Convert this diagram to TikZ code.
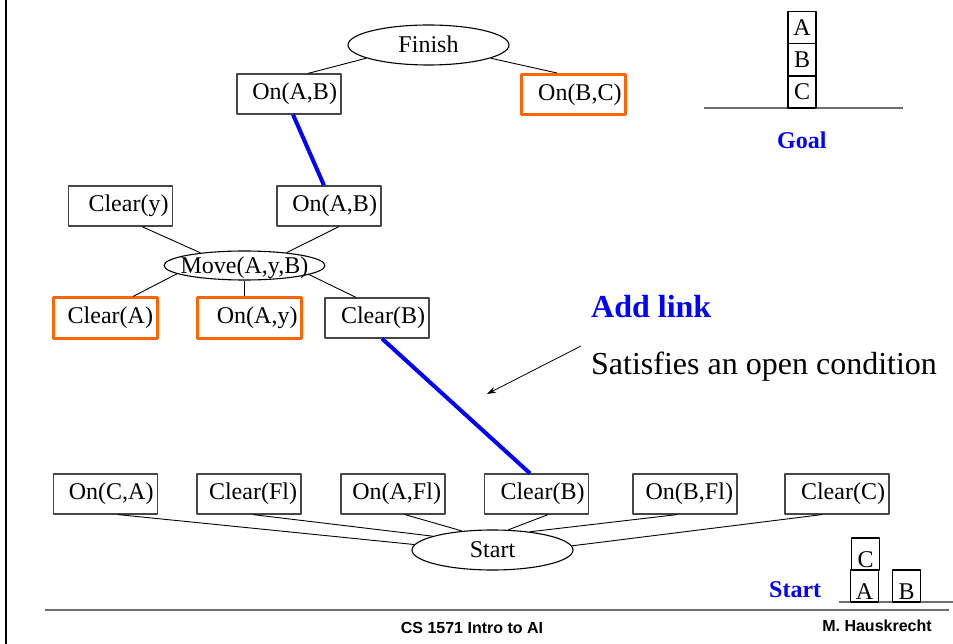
\documentclass[tikz,border=0pt]{standalone}
\usepackage{fontspec}
\setmainfont{Liberation Serif}
\newfontfamily\footfont{Liberation Sans}
\usetikzlibrary{arrows.meta,shapes.geometric}
\definecolor{linkorange}{RGB}{255,102,0}
\definecolor{linkblue}{RGB}{0,0,255}
\definecolor{boxgray}{RGB}{70,70,70}
\definecolor{rulegray}{RGB}{110,110,110}
% ellipse text that does not widen the ellipse
\newcommand{\actname}[1]{\raisebox{-0.33em}[0pt][0pt]{\makebox[0pt]{#1}}}
\tikzset{
	cond/.style={draw=boxgray, line width=1.2pt, minimum width=104pt, minimum height=40pt,
		inner sep=0pt, text width=96pt, align=right, font=\fontsize{24}{28}\selectfont},
	opencond/.style={cond, draw=linkorange, line width=3pt},
	act/.style={draw, ellipse, line width=1.1pt, minimum width=161pt, minimum height=40pt,
		inner sep=0pt, font=\fontsize{24}{28}\selectfont},
	wire/.style={line width=0.9pt},
	link/.style={linkblue, line width=4pt},
	block/.style={draw, line width=1.1pt, minimum width=28pt, minimum height=32pt, inner sep=0pt,
		font=\fontsize{24}{28}\selectfont},
	bluelabel/.style={text=linkblue, font=\fontsize{24}{28}\selectfont\bfseries, inner sep=0pt, anchor=base west}
}
\begin{document}
\begin{tikzpicture}[x=1pt, y=-1pt, line join=round, >=stealth]
	\useasboundingbox (0,0) rectangle (953,644);
	% slide frame
	\draw[line width=2.5pt] (6,0) -- (6,644);
	\draw[rulegray, line width=1.5pt] (45,610) -- (949,610);
	\node[font=\footfont\fontsize{16}{18}\selectfont\bfseries] (course) at (472,628) {CS 1571 Intro to AI};
	\node[font=\footfont\fontsize{16}{18}\selectfont\bfseries] (author) at (877,626) {M. Hauskrecht};

	% goal state
	\draw[rulegray, line width=2pt] (704,108) -- (903,108);
	\foreach \b/\y in {A/27.5,B/59.5,C/92} {
		\node[block] (g\b) at (802,\y) {\b};}
	\node[bluelabel] (goal) at (777,149) {Goal};

	% start state
	\draw[rulegray, line width=2pt] (839,602) -- (953,602);
	\node[block, text depth=0pt, text height=26pt] (sC) at (865.5,554) {C};
	\node[block, text depth=0pt, text height=26pt] (sA) at (864.5,586) {A};
	\node[block, text depth=0pt, text height=26pt] (sB) at (906.5,586) {B};
	\node[bluelabel] (startlbl) at (769,597) {Start};

	% plan
	\node[act] (finish) at (428.5,45) {\actname{Finish}};
	\node[cond] (onab1) at (289,94) {On(A,B)};
	\node[opencond] (onbc) at (573.5,94.5) {On(B,C)};
	\draw[wire] (finish.192) -- ([xshift=19pt]onab1.north);
	\draw[wire] (finish.348) -- ([xshift=-16.5pt]onbc.north);

	\node[cond] (cleary) at (120.5,206) {Clear(y)};
	\node[cond] (onab2) at (329,206) {On(A,B)};
	\node[act, minimum height=29pt] (move) at (244.5,265.5) {\actname{Move(A,y,B)}};
	\node[opencond] (clra) at (105,318) {Clear(A)};
	\node[opencond] (onay) at (249.5,318) {On(A,y)};
	\node[cond] (clrb) at (377,318) {Clear(B)};
	\draw[wire] ([xshift=21.5pt]cleary.south) -- (move.164);
	\draw[wire] ([xshift=10pt]onab2.south) -- (move.17);
	\draw[wire] (move.187) -- ([xshift=28pt]clra.north);
	\draw[wire] (move.south) -- (move.south |- onay.north);
	\draw[wire] (move.352) -- ([xshift=-21pt]clrb.north);
	\draw[link] ([xshift=4pt]onab1.south) -- ([xshift=-5pt]onab2.north);

	\node[act] (start) at (492.5,550) {\actname{Start}};
	\foreach \n/\x/\t/\dx/\a in {onca/105.5/{On(C,A)}/12.5/176, clrfl/249/{Clear(Fl)}/4/167,
		onafl/393/{On(A,Fl)}/12/148, clrb2/536.5/{Clear(B)}/11.5/52,
		onbfl/685/{On(B,Fl)}/-8/26, clrc/837/{Clear(C)}/-15/3} {
		\node[cond] (\n) at (\x,494) {\t};
		\draw[wire] ([xshift=\dx pt]\n.south) -- (start.\a);}
	\draw[link] ([xshift=5pt]clrb.south) -- ([xshift=-6.5pt]clrb2.north);

	% annotation
	\node[bluelabel, font=\fontsize{32}{36}\selectfont\bfseries] (addlink) at (591,318) {Add link};
	\node[anchor=base west, inner sep=0pt, font=\fontsize{32}{36}\selectfont] (satisfies) at (591,374) {Satisfies an open condition};
	\coordinate (tail) at (581,346);
	\coordinate (head) at (487,394);
	\draw[-{Stealth[length=9pt, width=6pt]}, line width=0.8pt] (tail) -- (head);
\end{tikzpicture}
\end{document}
